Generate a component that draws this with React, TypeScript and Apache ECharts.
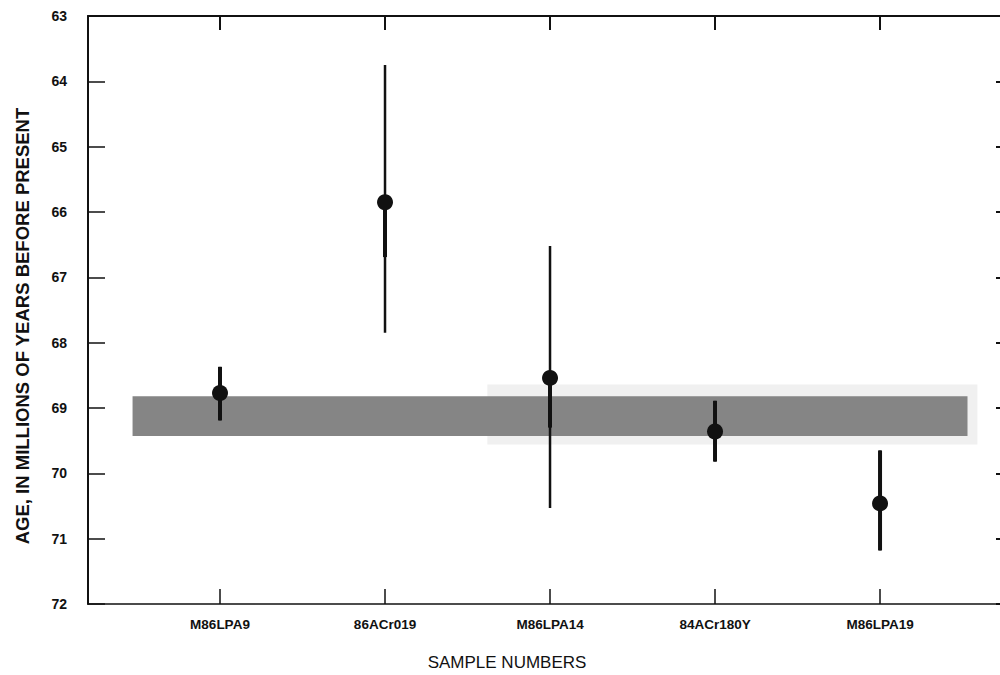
import React, { useEffect, useRef } from "react";
import * as echarts from "echarts";

const categories = ["M86LPA9", "86ACr019", "M86LPA14", "84ACr180Y", "M86LPA19"];
const positions = [1, 2, 3, 4, 5];
const ages = [68.77, 65.85, 68.54, 69.36, 70.46];
const errLow = [68.37, 63.75, 66.52, 68.89, 69.65];
const errHigh = [69.19, 67.85, 70.53, 69.82, 71.18];
const innerLow = [68.37, 65.85, 68.54, 68.89, 69.65];
const innerHigh = [69.19, 66.69, 69.3, 69.82, 71.18];
const bandAge = [68.82, 69.43];
const bandSpan = [0.47, 5.53];
const patchAge = [68.64, 69.56];
const patchSpan = [2.62, 5.59];
const yTicks = [63, 72, 1];

const FONT = "'Liberation Sans', Arial, sans-serif";

export default function App() {
  const ref = useRef<HTMLDivElement>(null);
  useEffect(() => {
    if (!ref.current) return;
    const chart = echarts.init(ref.current, undefined, { renderer: "svg" });
    const errLine = (w: number) => (params: any, api: any) => {
      const x = api.value(0);
      const p1 = api.coord([x, api.value(1)]);
      const p2 = api.coord([x, api.value(2)]);
      return {
        type: "line",
        shape: { x1: p1[0], y1: p1[1], x2: p2[0], y2: p2[1] },
        style: { stroke: "#111", lineWidth: w },
      };
    };
    const xCommon = {
      type: "value",
      min: 0.2,
      max: 5.727,
      splitLine: { show: false },
    };
    chart.setOption({
      animation: false,
      backgroundColor: "#fff",
      textStyle: { fontFamily: FONT },
      grid: { left: 88, top: 16, bottom: 71, right: 0, containLabel: false },
      xAxis: [
        {
          ...xCommon,
          position: "bottom",
          axisLine: { show: true, lineStyle: { color: "#111", width: 1.5 } },
          axisTick: {
            show: true,
            inside: true,
            length: 15,
            customValues: positions,
            lineStyle: { color: "#111", width: 1.5 },
          },
          axisLabel: {
            customValues: positions,
            formatter: (v: number) => categories[Math.round(v) - 1] ?? "",
            margin: 13,
            fontSize: 13.5,
            fontWeight: "bold",
            color: "#111",
            fontFamily: FONT,
          },
        },
        {
          ...xCommon,
          position: "top",
          axisLine: { show: true, lineStyle: { color: "#111", width: 2 } },
          axisTick: {
            show: true,
            inside: true,
            length: 14,
            customValues: positions,
            lineStyle: { color: "#111", width: 2 },
          },
          axisLabel: { show: false },
        },
      ],
      yAxis: [
        {
          type: "value",
          inverse: true,
          min: yTicks[0],
          max: yTicks[1],
          interval: yTicks[2],
          position: "left",
          splitLine: { show: false },
          axisLine: { show: true, lineStyle: { color: "#111", width: 2 } },
          axisTick: { show: true, inside: true, length: 17, lineStyle: { color: "#111", width: 1.5 } },
          axisLabel: { margin: 21, fontSize: 14, fontWeight: "bold", color: "#111", fontFamily: FONT },
        },
        {
          type: "value",
          inverse: true,
          min: yTicks[0],
          max: yTicks[1],
          interval: yTicks[2],
          position: "right",
          splitLine: { show: false },
          axisLine: { show: false },
          axisTick: { show: true, inside: true, length: 4, lineStyle: { color: "#111", width: 2 } },
          axisLabel: { show: false },
        },
      ],
      graphic: [
        {
          type: "text",
          x: 507,
          y: 662,
          style: {
            text: "SAMPLE NUMBERS",
            fontSize: 17,
            fontFamily: FONT,
            fill: "#111",
            textAlign: "center",
            textVerticalAlign: "middle",
          },
        },
        {
          type: "text",
          x: 22,
          y: 326,
          rotation: Math.PI / 2,
          style: {
            text: "AGE, IN MILLIONS OF YEARS BEFORE PRESENT",
            fontSize: 18.5,
            fontWeight: "bold",
            fontFamily: FONT,
            fill: "#111",
            textAlign: "center",
            textVerticalAlign: "middle",
          },
        },
      ],
      series: [
        {
          type: "scatter",
          data: [],
          silent: true,
          markArea: {
            silent: true,
            itemStyle: { color: "#f0f0f0" },
            data: [[{ xAxis: patchSpan[0], yAxis: patchAge[0] }, { xAxis: patchSpan[1], yAxis: patchAge[1] }]],
          },
        },
        {
          type: "scatter",
          data: [],
          silent: true,
          markArea: {
            silent: true,
            itemStyle: { color: "#858585" },
            data: [[{ xAxis: bandSpan[0], yAxis: bandAge[0] }, { xAxis: bandSpan[1], yAxis: bandAge[1] }]],
          },
        },
        {
          type: "custom",
          renderItem: errLine(2.5),
          encode: { x: 0, y: [1, 2] },
          data: positions.map((p, i) => [p, errLow[i], errHigh[i]]),
          z: 3,
        },
        {
          type: "custom",
          renderItem: errLine(4),
          encode: { x: 0, y: [1, 2] },
          data: positions.map((p, i) => [p, innerLow[i], innerHigh[i]]),
          z: 4,
        },
        {
          type: "scatter",
          symbol: "circle",
          symbolSize: 16,
          itemStyle: { color: "#111", opacity: 1 },
          data: positions.map((p, i) => [p, ages[i]]),
          z: 5,
        },
      ],
    });
    return () => chart.dispose();
  }, []);
  return (
    <div
      ref={ref}
      style={{ position: "absolute", left: 0, top: 0, width: 1000, height: 675 }}
    />
  );
}
